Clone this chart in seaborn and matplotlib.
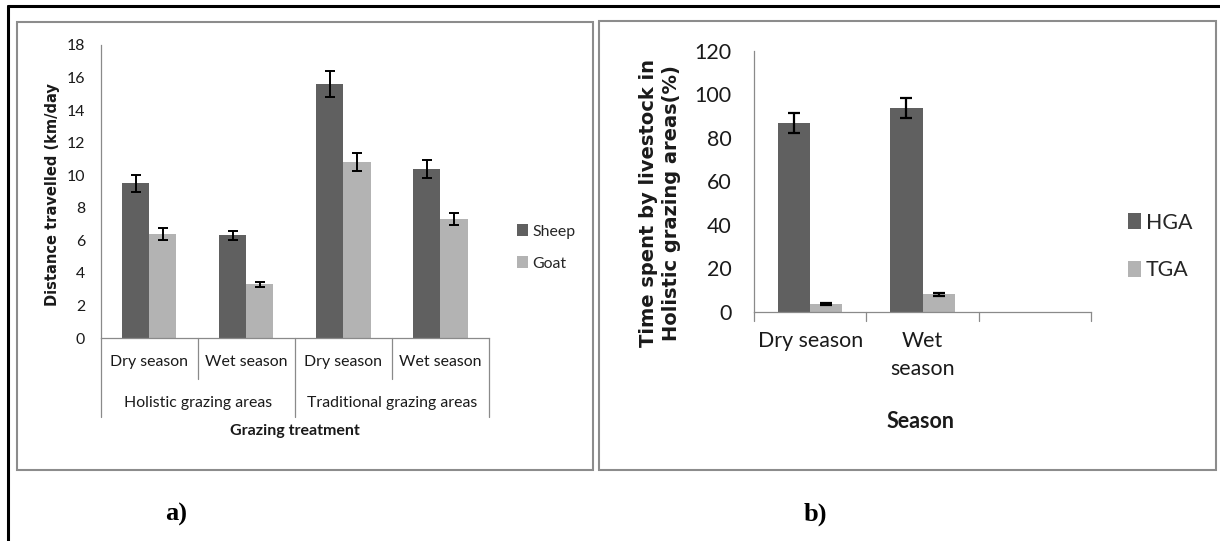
import numpy as np
import pandas as pd
import matplotlib
matplotlib.use("Agg")
import matplotlib.pyplot as plt
import seaborn as sns
from matplotlib.lines import Line2D
from matplotlib.patches import Rectangle

# ---------------- data: panel a ----------------
seasons_a = ["Dry season", "Wet season", "Dry season", "Wet season"]
areas_a = ["Holistic grazing areas", "Traditional grazing areas"]
species = ["Sheep", "Goat"]
sheep_mean = [9.5, 6.3, 15.6, 10.4]
sheep_err = [0.5, 0.3, 0.8, 0.55]
goat_mean = [6.4, 3.3, 10.8, 7.3]
goat_err = [0.35, 0.15, 0.55, 0.38]
yticks_a = [0, 2, 4, 6, 8, 10, 12, 14, 16, 18]

# ---------------- data: panel b ----------------
seasons_b = ["Dry season", "Wet\nseason", ""]
areas_b = ["HGA", "TGA"]
hga_mean = [87.0, 93.7]
hga_err = [4.6, 4.6]
tga_mean = [3.5, 8.1]
tga_err = [0.5, 0.8]
yticks_b = [0, 20, 40, 60, 80, 100, 120]

DARK = "#606060"
LIGHT = "#b3b3b3"
SPINE = "#8a8a8a"
TXT = "#1a1a1a"

sns.set_style("white")
plt.rcParams["font.family"] = ["Lato", "DejaVu Sans"]

W, H = 1220, 541
fig = plt.figure(figsize=(W / 100, H / 100), dpi=100)


def fx(x):
    return x / W


def fy(y):
    return 1 - y / H


# frames
fig.add_artist(Line2D([fx(8), fx(1225)], [fy(6), fy(6)], color="black", lw=2.2))
fig.add_artist(Line2D([fx(8), fx(8)], [fy(6), fy(545)], color="black", lw=2.2))
fig.add_artist(Rectangle((fx(17), fy(470)), fx(593) - fx(17), fy(22) - fy(470),
                         fill=False, ec="#8c8c8c", lw=1.5, transform=fig.transFigure))
fig.add_artist(Rectangle((fx(599), fy(470)), fx(1216) - fx(599), fy(21) - fy(470),
                         fill=False, ec="#8c8c8c", lw=1.5, transform=fig.transFigure))

# ---------------- panel a ----------------
ax_l, ax_r, ax_t, ax_b = 100.7, 489, 45, 338
axa = fig.add_axes([fx(ax_l), fy(ax_b), fx(ax_r) - fx(ax_l), fy(ax_t) - fy(ax_b)])
cat_ids = [f"c{i}" for i in range(len(seasons_a))]
df_a = pd.DataFrame({
    "cat": cat_ids * 2,
    "value": sheep_mean + goat_mean,
    "species": [species[0]] * 4 + [species[1]] * 4,
})
sns.barplot(data=df_a, x="cat", y="value", hue="species", order=cat_ids,
            hue_order=species, palette=[DARK, LIGHT], saturation=1, width=0.56,
            errorbar=None, legend=False, ax=axa, linewidth=0)
for cont, errs in zip(axa.containers, [sheep_err, goat_err]):
    xs = [p.get_x() + p.get_width() / 2 for p in cont.patches]
    hs = [p.get_height() for p in cont.patches]
    axa.errorbar(xs, hs, yerr=errs, fmt="none", ecolor="black", elinewidth=1.4,
                 capsize=3.3, capthick=1.4, zorder=5)

axa.set_xlim(-0.5, 3.5)
axa.set_ylim(0, 18)
axa.set_yticks(yticks_a)
axa.set_yticklabels([str(v) for v in yticks_a], fontsize=11.4, color=TXT)
axa.set_xticks(range(4))
axa.set_xticklabels(seasons_a, fontsize=11.4, color=TXT)
axa.tick_params(axis="x", length=0, pad=12.5)
axa.tick_params(axis="y", length=4.3, width=0.8, color=SPINE, direction="out", pad=7)
for s in ["top", "right"]:
    axa.spines[s].set_visible(False)
for s in ["left", "bottom"]:
    axa.spines[s].set_color(SPINE)
    axa.spines[s].set_linewidth(0.9)
tr = axa.get_xaxis_transform()
for xb, depth in zip([-0.5, 0.5, 1.5, 2.5, 3.5], [-0.27, -0.14, -0.27, -0.14, -0.27]):
    axa.add_line(Line2D([xb, xb], [0, depth], transform=tr, color=SPINE, lw=0.9, clip_on=False))
for i, name in enumerate(areas_a):
    axa.text(2 * i + 0.5, -(403 - 338) / 293, name, transform=tr, ha="center", va="center",
             fontsize=11.4, color=TXT)
axa.set_xlabel("Grazing treatment", fontsize=11.5, fontweight="bold", color=TXT)
axa.xaxis.label.set_va("center")
axa.xaxis.set_label_coords(0.5, -(431 - 338) / 293)
axa.set_ylabel("Distance travelled (km/day", fontsize=10.5, fontweight="bold",
               color=TXT, family="DejaVu Sans")
axa.yaxis.label.set_va("center")
axa.yaxis.set_label_coords((52 - ax_l) / (ax_r - ax_l), (ax_b - 195) / (ax_b - ax_t))
axa.legend(axa.containers, species, loc="center left",
           bbox_to_anchor=(fx(517), fy(247.5)), bbox_transform=fig.transFigure,
           frameon=False, fontsize=11.4, handlelength=0.7, handleheight=0.75,
           handletextpad=0.25, labelspacing=1.1, borderpad=0, borderaxespad=0)

# ---------------- panel b ----------------
bl, br, bt, bb = 754, 1091, 50.7, 312
axb = fig.add_axes([fx(bl), fy(bb), fx(br) - fx(bl), fy(bt) - fy(bb)])
df_b = pd.DataFrame({
    "season": seasons_b[:2] * 2,
    "value": hga_mean + tga_mean,
    "area": [areas_b[0]] * 2 + [areas_b[1]] * 2,
})
sns.barplot(data=df_b, x="season", y="value", hue="area", order=seasons_b,
            hue_order=areas_b, palette=[DARK, LIGHT], saturation=1, width=0.57,
            errorbar=None, legend=False, ax=axb, linewidth=0)
for cont, errs in zip(axb.containers, [hga_err, tga_err]):
    pts = [p for p in cont.patches if p.get_height() > 0]
    xs = [p.get_x() + p.get_width() / 2 for p in pts]
    hs = [p.get_height() for p in pts]
    axb.errorbar(xs, hs, yerr=errs[:len(pts)], fmt="none", ecolor="black", elinewidth=1.6,
                 capsize=4.2, capthick=1.6, zorder=5)

axb.set_xlim(-0.5, 2.5)
axb.set_ylim(0, 120)
axb.set_yticks(yticks_b)
axb.set_yticklabels([str(v) for v in yticks_b], fontsize=15.4, color=TXT)
axb.set_xticks(range(3))
axb.set_xticklabels(seasons_b, fontsize=15.4, color=TXT, linespacing=1.45)
axb.tick_params(axis="x", length=0, pad=14)
axb.tick_params(axis="y", length=5.5, width=0.8, color=SPINE, direction="out", pad=10.5)
for s in ["top", "right"]:
    axb.spines[s].set_visible(False)
for s in ["left", "bottom"]:
    axb.spines[s].set_color(SPINE)
    axb.spines[s].set_linewidth(0.9)
trb = axb.get_xaxis_transform()
for xb in [-0.5, 0.5, 1.5, 2.5]:
    axb.add_line(Line2D([xb, xb], [0, -9 / 261.3], transform=trb, color=SPINE, lw=0.9, clip_on=False))
axb.set_xlabel("Season", fontsize=15.5, fontweight="bold", color=TXT)
axb.xaxis.label.set_va("center")
axb.xaxis.set_label_coords((921 - bl) / (br - bl), -(422 - bb) / (bb - bt))
axb.set_ylabel("Time spent by livestock in\nHolistic grazing areas(%)", fontsize=14,
               fontweight="bold", color=TXT, family="DejaVu Sans", linespacing=1.25)
axb.yaxis.label.set_va("center")
axb.yaxis.set_label_coords((660 - bl) / (br - bl), (bb - 203) / (bb - bt))
axb.legend(axb.containers, areas_b, loc="center left",
           bbox_to_anchor=(fx(1128), fy(246.5)), bbox_transform=fig.transFigure,
           frameon=False, fontsize=15.4, handlelength=0.62, handleheight=0.75,
           handletextpad=0.2, labelspacing=1.3, borderpad=0, borderaxespad=0)

# panel letters
fig.text(fx(176), fy(514), "a)", family="Liberation Serif", fontweight="bold",
         fontsize=19, ha="center", va="center", color="black")
fig.text(fx(815), fy(514), "b)", family="Liberation Serif", fontweight="bold",
         fontsize=19, ha="center", va="center", color="black")

fig.savefig("out.png", dpi=100)
